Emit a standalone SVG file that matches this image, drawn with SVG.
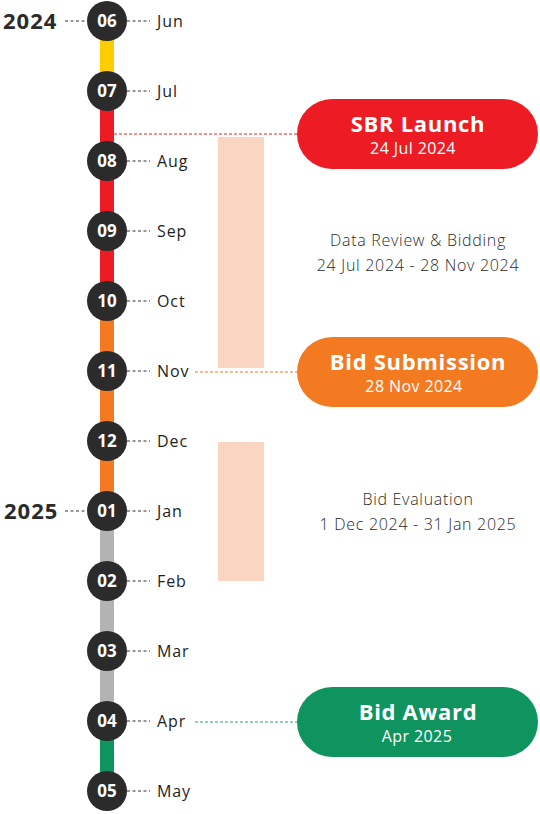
<svg xmlns="http://www.w3.org/2000/svg" width="540" height="814" viewBox="0 0 540 814">
<style>
.c{fill:#2b2b2b}
.n{font-family:"Open Sans","Liberation Sans",sans-serif;font-weight:700;font-size:17px;fill:#fff;text-anchor:middle}
.m{font-family:"Open Sans","Liberation Sans",sans-serif;font-weight:500;font-size:16px;letter-spacing:0.9px;fill:#1e1e1e}
.y{font-family:"Open Sans","Liberation Sans",sans-serif;font-weight:700;font-size:22px;letter-spacing:1px;fill:#2b2b2b}
.d{stroke:#333;stroke-width:1;stroke-dasharray:3 2.5;fill:none}
.pt{font-family:"Open Sans","Liberation Sans",sans-serif;font-weight:700;font-size:22px;letter-spacing:0.7px;fill:#fff;text-anchor:middle}
.ps{font-family:"Open Sans","Liberation Sans",sans-serif;font-weight:400;font-size:16px;letter-spacing:0.4px;fill:#fff;text-anchor:middle}
.t{font-family:"Open Sans","Liberation Sans",sans-serif;font-weight:300;font-size:16px;letter-spacing:0.7px;fill:#2b2b2b;text-anchor:middle}
.bar{fill:#f9d5c2}
</style>
<g id="segments">
<rect x="100" y="21" width="14" height="70" fill="#ffcc00"/>
<rect x="100" y="91" width="14" height="210" fill="#ed1c24"/>
<rect x="100" y="301" width="14" height="210" fill="#f47a22"/>
<rect x="100" y="511" width="14" height="210" fill="#b3b3b3"/>
<rect x="100" y="721" width="14" height="70" fill="#0f9460"/>
</g>
<g id="ranges">
<rect class="bar" x="218" y="137" width="46" height="231"/>
<rect class="bar" x="218" y="442" width="46" height="139"/>
<text class="t" x="418" y="246">Data Review &amp; Bidding</text>
<text class="t" x="418" y="271">24 Jul 2024 - 28 Nov 2024</text>
<text class="t" x="418" y="505">Bid Evaluation</text>
<text class="t" x="418" y="530">1 Dec 2024 - 31 Jan 2025</text>
</g>
<g id="connectors">
<path class="d" d="M65 21H87M65 511H87"/>
<path class="d" d="M127 21H150M127 91H150M127 161H150M127 231H150M127 301H150M127 371H150M127 441H150M127 511H150M127 581H150M127 651H150M127 721H150M127 791H150"/>
<path d="M114 134H297" stroke="#ed1c24" stroke-width="1" stroke-dasharray="3 2"/>
<path d="M195 372H297" stroke="#f7a46c" stroke-width="1.5" stroke-dasharray="3 2"/>
<path d="M195 722H297" stroke="#6fc4a2" stroke-width="1.5" stroke-dasharray="3 2"/>
</g>
<g id="years">
<text class="y" x="3" y="29">2024</text>
<text class="y" x="4" y="519">2025</text>
</g>
<g id="m06"><circle class="c" cx="107" cy="21" r="20"/><text class="n" x="107" y="27">06</text><text class="m" x="157" y="27">Jun</text></g>
<g id="m07"><circle class="c" cx="107" cy="91" r="20"/><text class="n" x="107" y="97">07</text><text class="m" x="157" y="97">Jul</text></g>
<g id="m08"><circle class="c" cx="107" cy="161" r="20"/><text class="n" x="107" y="167">08</text><text class="m" x="157" y="167">Aug</text></g>
<g id="m09"><circle class="c" cx="107" cy="231" r="20"/><text class="n" x="107" y="237">09</text><text class="m" x="157" y="237">Sep</text></g>
<g id="m10"><circle class="c" cx="107" cy="301" r="20"/><text class="n" x="107" y="307">10</text><text class="m" x="157" y="307">Oct</text></g>
<g id="m11"><circle class="c" cx="107" cy="371" r="20"/><text class="n" x="107" y="377">11</text><text class="m" x="157" y="377">Nov</text></g>
<g id="m12"><circle class="c" cx="107" cy="441" r="20"/><text class="n" x="107" y="447">12</text><text class="m" x="157" y="447">Dec</text></g>
<g id="m01"><circle class="c" cx="107" cy="511" r="20"/><text class="n" x="107" y="517">01</text><text class="m" x="157" y="517">Jan</text></g>
<g id="m02"><circle class="c" cx="107" cy="581" r="20"/><text class="n" x="107" y="587">02</text><text class="m" x="157" y="587">Feb</text></g>
<g id="m03"><circle class="c" cx="107" cy="651" r="20"/><text class="n" x="107" y="657">03</text><text class="m" x="157" y="657">Mar</text></g>
<g id="m04"><circle class="c" cx="107" cy="721" r="20"/><text class="n" x="107" y="727">04</text><text class="m" x="157" y="727">Apr</text></g>
<g id="m05"><circle class="c" cx="107" cy="791" r="20"/><text class="n" x="107" y="797">05</text><text class="m" x="157" y="797">May</text></g>
<g id="sbr-launch"><rect x="297" y="99" width="241" height="70" rx="35" fill="#ed1c24"/><text class="pt" x="418" y="132">SBR Launch</text><text class="ps" x="413" y="154">24 Jul 2024</text></g>
<g id="bid-submission"><rect x="297" y="337" width="241" height="70" rx="35" fill="#f47a22"/><text class="pt" x="418" y="370">Bid Submission</text><text class="ps" x="414" y="392">28 Nov 2024</text></g>
<g id="bid-award"><rect x="297" y="687" width="241" height="70" rx="35" fill="#0f9460"/><text class="pt" x="418" y="720">Bid Award</text><text class="ps" x="417" y="742">Apr 2025</text></g>
</svg>
